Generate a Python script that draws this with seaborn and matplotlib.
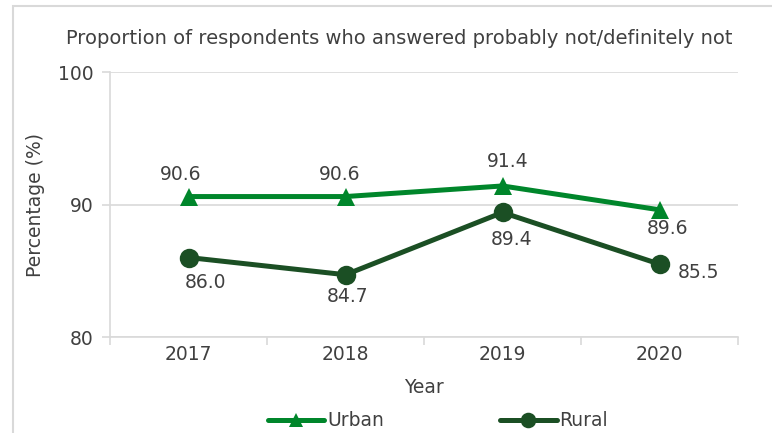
import matplotlib
matplotlib.use("Agg")
import matplotlib.pyplot as plt
from matplotlib.patches import Rectangle
import seaborn as sns
import pandas as pd

# Survey data
years = ["2017", "2018", "2019", "2020"]
urban = [90.6, 90.6, 91.4, 89.6]
rural = [86.0, 84.7, 89.4, 85.5]
series_names = ["Urban", "Rural"]

# Label placement (pixel offsets from each point)
urban_label_offsets = [(-8, 22), (-6, 22), (5, 24), (8, -19)]
rural_label_offsets = [(17, -25), (2, -22), (9, -27), (39, -8)]

URBAN_COLOR = "#00862B"
RURAL_COLOR = "#1B4F24"
TEXT_COLOR = "#404040"
GRID_COLOR = "#D9D9D9"

sns.set_theme(style="white")
plt.rcParams["font.family"] = ["DejaVu Sans"]

df = pd.DataFrame({
    "pos": list(range(len(years))) * 2,
    "value": urban + rural,
    "series": [series_names[0]] * len(years) + [series_names[1]] * len(years),
})

fig = plt.figure(figsize=(7.72, 4.33), dpi=100)
ax = fig.add_axes([0.1425, 0.2217, 0.8135, 0.612])

sns.lineplot(
    data=df, x="pos", y="value", hue="series", style="series",
    palette={"Urban": URBAN_COLOR, "Rural": RURAL_COLOR},
    markers={"Urban": "^", "Rural": "o"}, dashes=False,
    linewidth=3.6, markeredgewidth=0, ax=ax, legend=False, zorder=3,
)
for line, ms in zip(ax.lines, [13, 14]):
    line.set_markersize(ms)

# Value labels
for vals, offs in [(urban, urban_label_offsets), (rural, rural_label_offsets)]:
    for i, (v, (dx, dy)) in enumerate(zip(vals, offs)):
        ax.annotate(f"{v:.1f}", (i, v), xytext=(dx, dy), textcoords="offset pixels",
                    ha="center", va="center", fontsize=13.5, color=TEXT_COLOR, zorder=4)

ax.set_xlim(-0.5, len(years) - 0.5)
ax.set_ylim(80, 100)
ax.set_yticks([80, 90, 100])
ax.set_xticks(range(len(years)))
ax.set_xticklabels(years)
ax.set_xticks([i - 0.5 for i in range(len(years) + 1)], minor=True)

ax.grid(axis="y", color=GRID_COLOR, linewidth=1.2, zorder=0)
ax.set_axisbelow(True)
for side in ["top", "right"]:
    ax.spines[side].set_visible(False)
for side in ["left", "bottom"]:
    ax.spines[side].set_color(GRID_COLOR)
    ax.spines[side].set_linewidth(1.2)

ax.tick_params(axis="y", which="major", direction="out", length=6, width=1.2,
               color=GRID_COLOR, labelsize=13.5, labelcolor=TEXT_COLOR, pad=6, left=True)
ax.tick_params(axis="x", which="major", length=0, labelsize=13.5, labelcolor=TEXT_COLOR, pad=6)
ax.tick_params(axis="x", which="minor", direction="out", length=6, width=1.2,
               color=GRID_COLOR, bottom=True)

ax.set_xlabel("Year", fontsize=13.5, color=TEXT_COLOR, labelpad=10)
ax.set_ylabel("Percentage (%)", fontsize=13.5, color=TEXT_COLOR, labelpad=9)

fig.text(399 / 772, 1 - 38 / 433, "Proportion of respondents who answered probably not/definitely not",
         ha="center", va="center", fontsize=14, color=TEXT_COLOR)

# Legend at the bottom
handles = ax.lines[:2]
fig.legend(handles, series_names, loc="center", bbox_to_anchor=(438 / 772, 1 - 421 / 433),
           ncol=2, frameon=False, fontsize=13.5, handlelength=3.0, handletextpad=0.15,
           columnspacing=6.2, labelcolor=TEXT_COLOR, markerscale=0.8)

# Chart frame
fig.patches.append(Rectangle((13 / 772, -0.1), 1.2, 1.1 - 6 / 433, transform=fig.transFigure,
                             fill=False, edgecolor=GRID_COLOR, linewidth=1.5))

fig.savefig("out.png", dpi=100)
